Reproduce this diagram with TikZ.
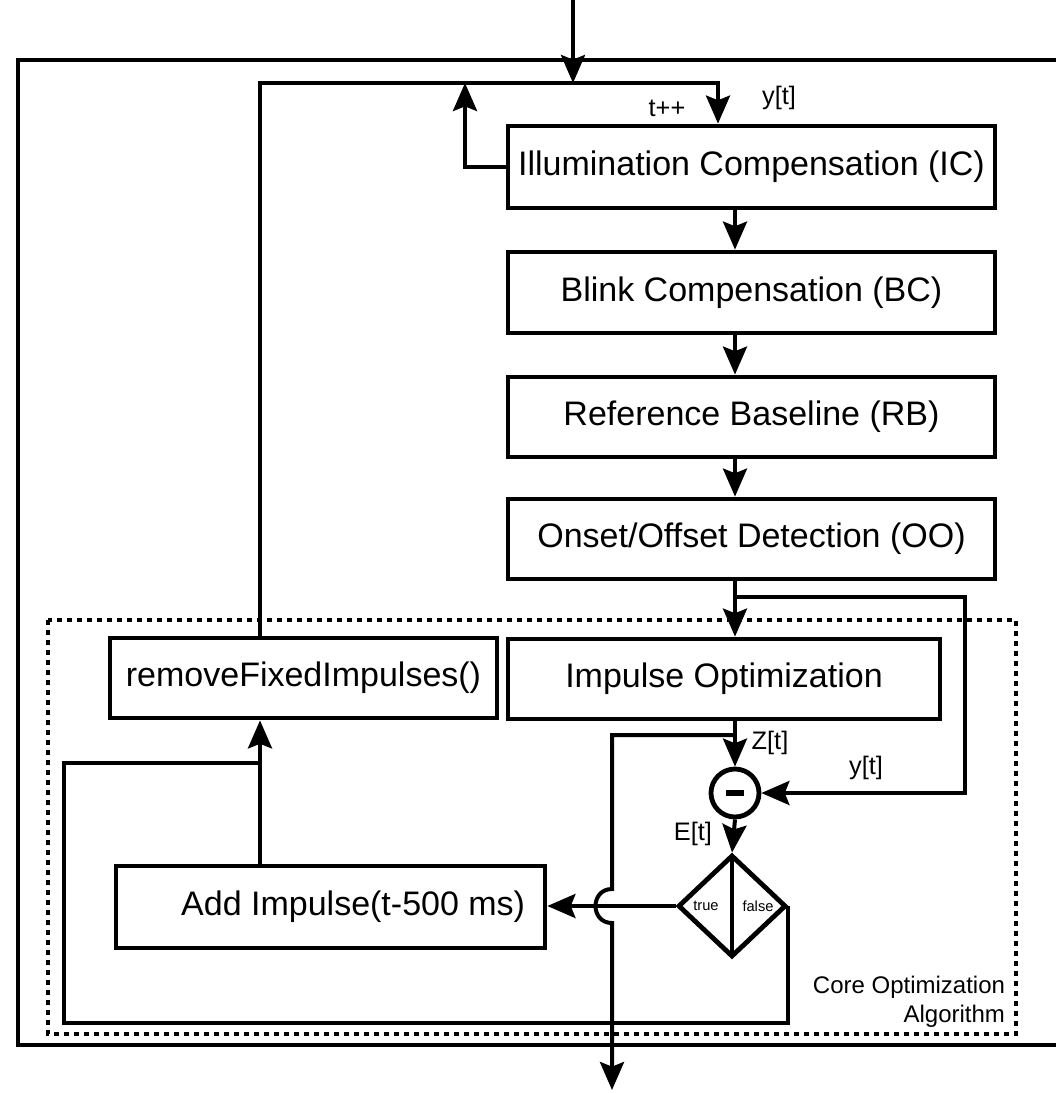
\documentclass[tikz,border=0pt]{standalone}
\usepackage{fontspec}
\setmainfont{Liberation Sans}
\usetikzlibrary{arrows.meta,shapes.geometric,fit}
\begin{document}
\begin{tikzpicture}[x=0.75pt,y=-0.75pt,
  line width=3pt,
  arr/.style={-{Stealth[length=21pt,width=18pt,inset=3.5pt]}},
  box/.style={draw,line width=3.6pt,inner sep=0pt},
  boxtext/.style={inner sep=0pt,font=\fontsize{25.5}{30}\selectfont},
  lbl/.style={font=\fontsize{19}{22}\selectfont,inner sep=0pt},
  small/.style={font=\fontsize{11}{13}\selectfont,inner sep=0pt},
  corelbl/.style={font=\fontsize{18}{22}\selectfont,align=right,inner sep=0pt},
  dotbox/.style={line width=3pt,dash pattern=on 3.5pt off 4pt},
]
\useasboundingbox (0,0) rectangle (1056,1093);

% boxes
\node[box,fit={(508,126)(995,208)},label={[boxtext]center:Illumination Compensation (IC)}] (ic) {};
\node[box,fit={(508,252)(995,333)},label={[boxtext]center:Blink Compensation (BC)}] (bc) {};
\node[box,fit={(508,377)(995,457)},label={[boxtext]center:Reference Baseline (RB)}] (rb) {};
\node[box,fit={(508,499)(995,579)},label={[boxtext]center:Onset/Offset Detection (OO)}] (oo) {};
\node[box,fit={(110,638)(497,718)},label={[boxtext]center:removeFixedImpulses()}] (rf) {};
\node[box,fit={(508,639)(940,719)},label={[boxtext]center:Impulse Optimization}] (io) {};
\node[box,fit={(116,866)(545,948)},label={[boxtext,xshift=17pt]center:Add Impulse(t-500 ms)}] (add) {};
\node[draw,circle,line width=3.6pt,minimum size=36pt,inner sep=0pt] (minus) at (735,793) {\rule{13pt}{3.8pt}};
\node[draw,diamond,line width=3.6pt,minimum width=81pt,minimum height=76.5pt,inner sep=0pt] (dia) at (732,906) {};
\draw[line width=3.6pt] (dia.center |- 0,857) -- (dia.center |- 0,955);
\node[small] at (706,906) {true};
\node[small] at (758,906) {false};

% coordinates
\coordinate (inTop) at (573,0);
\coordinate (inJ) at (573,83);
\coordinate (xL) at (260,0);
\coordinate (xM) at (735,0);
\coordinate (fbTL) at (260,83);
\coordinate (fbTR) at (718,83);
\coordinate (upEnd) at (465,83);
\coordinate (brJ) at (735,597);
\coordinate (brR) at (965,597);
\coordinate (zJ) at (735,735);
\coordinate (outL) at (612,735);
\coordinate (hopT) at (612,889);
\coordinate (hopB) at (612,923);
\coordinate (outEnd) at (612,1090);
\coordinate (lpBL) at (64,1023);
\coordinate (lpJ) at (260,763);

% frames
\draw (1060,60) -- (18,60) -- (18,1045) -- (1060,1045);
\draw[dotbox] (48,620) rectangle (1016,1034);

% connectors
\draw[arr] (inTop) -- (inJ);
\draw[arr] (rf.north -| xL) -- (fbTL) -- (fbTR) -- (fbTR |- ic.north);
\draw[arr] (ic.west) -| (upEnd);
\draw[arr] (ic.south -| xM) -- (bc.north -| xM);
\draw[arr] (bc.south -| xM) -- (rb.north -| xM);
\draw[arr] (rb.south -| xM) -- (oo.north -| xM);
\draw[arr] (oo.south -| xM) -- (io.north -| xM);
\draw[arr] (brJ) -- (brR) |- (minus.east);
\draw[arr] (io.south -| xM) -- (minus.north);
\draw[arr] (minus.south) -- (dia.north);
\draw[arr] (dia.west) -- (dia.west -| add.east);
\draw[arr] (add.north -| xL) -- (rf.south -| xL);
\draw (dia.east) |- (lpBL) |- (lpJ);
\draw[arr] (zJ) -- (outL) -- (hopT) .. controls (590,889) and (590,923) .. (hopB) -- (outEnd);

% labels
\node[lbl] at (779,98) {y[t]};
\node[lbl] at (667,108) {t++};
\node[lbl] at (770,743) {Z[t]};
\node[lbl] at (866,768) {y[t]};
\node[lbl] at (693,834) {E[t]};
\node[corelbl,anchor=east] at (1007,1002) {Core Optimization\\Algorithm};
\end{tikzpicture}
\end{document}
